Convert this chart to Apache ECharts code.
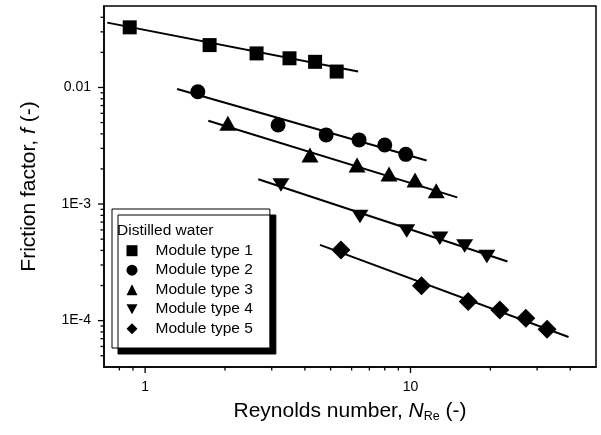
<!DOCTYPE html>
<html><head><meta charset="utf-8">
<script src="https://cdn.jsdelivr.net/npm/echarts@6/dist/echarts.min.js"></script>
<style>html,body{margin:0;padding:0;background:#fff}#c{width:601px;height:435px}</style>
</head><body><div id="c"></div>
<script>
const FONT = "'Liberation Sans', Arial, sans-serif";
const seriesNames = ['Module type 1', 'Module type 2', 'Module type 3', 'Module type 4', 'Module type 5'];
const legendTitle = 'Distilled water';

// Reynolds number (x) and friction factor (y) per module type
const re1 = [0.875, 1.75, 2.63, 3.50, 4.37, 5.27];
const f1  = [0.0328, 0.0231, 0.0196, 0.0178, 0.0166, 0.0137];
const re2 = [1.58, 3.17, 4.81, 6.40, 8.00, 9.60];
const f2  = [0.0092, 0.00477, 0.00392, 0.00355, 0.00321, 0.00267];
const re3 = [2.05, 4.18, 6.29, 8.30, 10.4, 12.5];
const f3  = [0.00493, 0.00264, 0.00216, 0.00181, 0.00161, 0.00130];
const re4 = [3.25, 6.45, 9.68, 12.9, 16.0, 19.4];
const f4  = [0.001459, 0.00078, 0.000588, 0.000509, 0.000437, 0.000354];
const re5 = [5.47, 11.0, 16.5, 21.7, 27.2, 32.7];
const f5  = [0.000404, 0.000199, 0.0001456, 0.0001236, 0.000105, 0.0000845];

// fitted power-law lines: [start, end] as [Re, f]
const fit1 = [[0.72, 0.0360], [6.35, 0.0137]];
const fit2 = [[1.32, 0.00971], [11.5, 0.00236]];
const fit3 = [[1.73, 0.00519], [15.0, 0.00114]];
const fit4 = [[2.67, 0.00163], [23.2, 0.000321]];
const fit5 = [[4.56, 0.000446], [39.4, 0.0000724]];

// axes
const X_MIN = 0.7, X_MAX = 50, Y_MIN = 4e-5, Y_MAX = 0.05;
const xTickValues = [1, 10];
const xTickLabels = ['1', '10'];
const yTickValues = [1e-4, 1e-3, 1e-2];
const yTickLabels = ['1E-4', '1E-3', '0.01'];
const xMinorTicks = [0.8, 0.9, 2, 3, 4, 5, 6, 7, 8, 9, 20, 30, 40];
const yMinorTicks = [5e-5, 6e-5, 7e-5, 8e-5, 9e-5,
  2e-4, 3e-4, 4e-4, 5e-4, 6e-4, 7e-4, 8e-4, 9e-4,
  2e-3, 3e-3, 4e-3, 5e-3, 6e-3, 7e-3, 8e-3, 9e-3,
  0.02, 0.03, 0.04];

const reData = [re1, re2, re3, re4, re5];
const fData = [f1, f2, f3, f4, f5];
const fits = [fit1, fit2, fit3, fit4, fit5];
const symbols = ['rect', 'circle', 'triangle', 'path://M0,0L10,0L5,9Z', 'diamond'];
const symbolSizes = [14, 15, [17, 15], [17, 15], 19];

function labelFor(values, labels) {
  return function (v) {
    for (let i = 0; i < values.length; i++) {
      if (Math.abs(v - values[i]) / values[i] < 1e-6) return labels[i];
    }
    return '';
  };
}

function tickSeries(values, axis, len) {
  return {
    type: 'custom', silent: true, clip: false, z: 3,
    data: values.map(v => axis === 'x' ? [v, Y_MIN] : [X_MIN, v]),
    renderItem: function (params, api) {
      const p = api.coord([api.value(0), api.value(1)]);
      const shape = axis === 'x'
        ? { x1: p[0], y1: p[1], x2: p[0], y2: p[1] + len }
        : { x1: p[0] - len, y1: p[1], x2: p[0], y2: p[1] };
      return { type: 'line', shape: shape, style: { stroke: '#000', lineWidth: 1.3 } };
    }
  };
}

const series = [];
fits.forEach(function (fit) {
  series.push({
    type: 'line', data: fit, symbol: 'none', silent: true, z: 2,
    lineStyle: { color: '#000', width: 2 }
  });
});
seriesNames.forEach(function (name, i) {
  series.push({
    name: name, type: 'scatter', z: 5,
    data: reData[i].map((x, j) => [x, fData[i][j]]),
    symbol: symbols[i], symbolSize: symbolSizes[i], symbolKeepAspect: true,
    itemStyle: { color: '#000', opacity: 1 }
  });
});
series.push(tickSeries(xTickValues, 'x', 6));
series.push(tickSeries(xMinorTicks, 'x', 3.5));
series.push(tickSeries(yTickValues, 'y', 6));
series.push(tickSeries(yMinorTicks, 'y', 3.5));

const chart = echarts.init(document.getElementById('c'), null, { renderer: 'canvas' });
chart.setOption({
  animation: false,
  backgroundColor: '#fff',
  grid: { left: 104, right: 5, top: 6, bottom: 68, show: true, borderColor: '#000', borderWidth: 1.5, backgroundColor: 'transparent' },
  xAxis: {
    type: 'log', logBase: 10, min: X_MIN, max: X_MAX,
    axisLine: { show: true, lineStyle: { color: '#000', width: 1.5 } },
    axisTick: { show: false }, splitLine: { show: false }, minorTick: { show: false },
    axisLabel: { formatter: labelFor(xTickValues, xTickLabels), color: '#000', fontSize: 14, fontFamily: FONT, margin: 13, showMinLabel: true, showMaxLabel: true },
    name: '{a|Reynolds number, }{i|N}{s|Re}{a| (-)}',
    nameLocation: 'middle', nameGap: 32,
    nameTextStyle: {
      color: '#000', fontFamily: FONT, fontSize: 21,
      rich: {
        a: { fontSize: 21, fontFamily: FONT, color: '#000', lineHeight: 24 },
        i: { fontSize: 21, fontFamily: FONT, color: '#000', fontStyle: 'italic', lineHeight: 24 },
        s: { fontSize: 12.5, fontFamily: FONT, color: '#000', lineHeight: 8, verticalAlign: 'bottom' }
      }
    }
  },
  yAxis: {
    type: 'log', logBase: 10, min: Y_MIN, max: Y_MAX,
    axisLine: { show: true, lineStyle: { color: '#000', width: 1.5 } },
    axisTick: { show: false }, splitLine: { show: false }, minorTick: { show: false },
    axisLabel: { formatter: labelFor(yTickValues, yTickLabels), color: '#000', fontSize: 14, fontFamily: FONT, margin: 13 },
    name: '{a|Friction factor, }{i|f}{a| (-)}',
    nameLocation: 'middle', nameGap: 64, nameRotate: 90,
    nameTextStyle: {
      color: '#000', fontFamily: FONT, fontSize: 21,
      rich: {
        a: { fontSize: 21, fontFamily: FONT, color: '#000' },
        i: { fontSize: 21, fontFamily: FONT, color: '#000', fontStyle: 'italic' }
      }
    }
  },
  legend: {
    data: seriesNames, orient: 'vertical', left: 112, top: 209,
    itemWidth: 11, itemHeight: 11, itemGap: 3.5,
    padding: [33.7, 17, 11.3, 14.5],
    backgroundColor: '#fff', borderColor: '#000', borderWidth: 1,
    shadowColor: '#000', shadowBlur: 0, shadowOffsetX: 6, shadowOffsetY: 6,
    selectedMode: false,
    textStyle: { color: '#000', fontSize: 15.5, fontFamily: FONT, padding: [0, 0, 0, 13] }
  },
  graphic: [{
    type: 'text', left: 117, top: 223, z: 100,
    style: { text: legendTitle, fill: '#000', font: '15.5px ' + FONT }
  }],
  series: series
});
</script>
</body></html>
